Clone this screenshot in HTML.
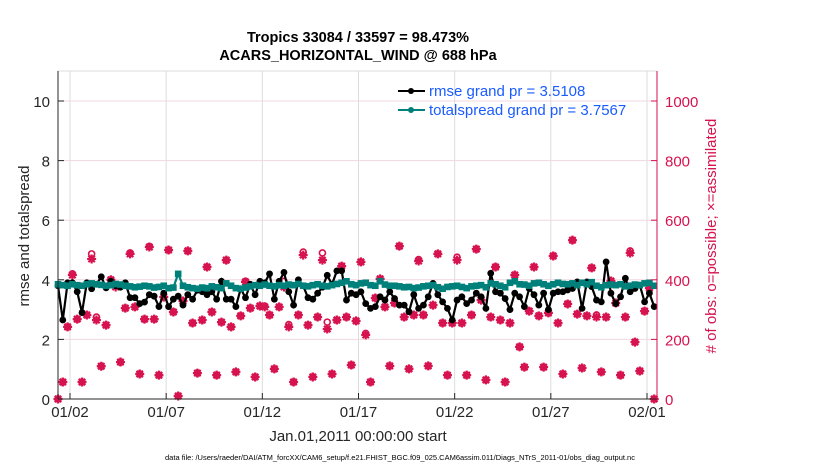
<!DOCTYPE html>
<html><head><meta charset="utf-8"><style>
body{margin:0;background:#fff;width:830px;height:470px;overflow:hidden;font-family:"Liberation Sans",Arial,sans-serif}
svg text{font-family:"Liberation Sans",Arial,sans-serif}
</style></head><body>
<svg id="c" width="830" height="470" xmlns="http://www.w3.org/2000/svg">
<text x="358" y="42" font-size="14.5" font-weight="bold" text-anchor="middle">Tropics 33084 / 33597 = 98.473%</text>
<text x="358" y="60" font-size="14.5" font-weight="bold" text-anchor="middle">ACARS_HORIZONTAL_WIND @ 688 hPa</text>
<text transform="translate(29,236) rotate(-90)" font-size="15" text-anchor="middle" fill="#262626">rmse and totalspread</text>
<text transform="translate(716,236) rotate(-90)" font-size="15" text-anchor="middle" fill="#d6124f"># of obs: o=possible; ×=assimilated</text>
<text x="358" y="441" font-size="15" text-anchor="middle" fill="#262626">Jan.01,2011 00:00:00 start</text>
<text x="400" y="460" font-size="7.5" text-anchor="middle" fill="#000">data file: /Users/raeder/DAI/ATM_forcXX/CAM6_setup/f.e21.FHIST_BGC.f09_025.CAM6assim.011/Diags_NTrS_2011-01/obs_diag_output.nc</text>
<g id="grid"></g><g id="obs"></g><g id="ser"></g><g id="axes"></g>
<g>
<line x1="398" y1="91" x2="425" y2="91" stroke="#000" stroke-width="2"/><circle cx="411" cy="91" r="3" fill="#000"/>
<text x="429" y="96" font-size="15" fill="#1a5cff">rmse grand pr = 3.5108</text>
<line x1="398" y1="110" x2="425" y2="110" stroke="#00807a" stroke-width="2"/><circle cx="411" cy="110" r="3" fill="#00807a"/>
<text x="429" y="115" font-size="15" fill="#1a5cff">totalspread grand pr = 3.7567</text>
</g>
</svg>
<script>
const obsAssim=[0,57,242,416,268,57,282,470,265,110,248,400,376,124,305,487,309,84,268,510,268,80,342,500,292,10,329,497,255,87,265,443,292,80,258,466,242,91,279,393,305,74,312,309,282,101,309,376,242,57,282,483,248,74,275,466,235,84,265,446,275,114,262,460,215,57,339,403,309,111,322,513,275,101,282,463,282,111,315,487,255,80,255,466,255,80,282,503,332,64,275,443,265,57,255,416,175,107,295,443,279,107,289,480,255,84,319,533,285,104,279,440,275,91,275,396,322,80,275,490,191,94,295,372,0];
const obsPoss=[0,57,242,420,268,57,282,487,275,110,248,400,380,124,305,490,309,84,268,512,268,80,342,500,292,10,329,497,255,87,265,443,292,80,258,466,242,91,279,395,305,74,312,312,282,101,309,395,250,57,282,493,248,74,275,490,258,84,265,446,275,114,262,460,220,57,339,403,309,111,322,513,275,101,282,468,282,111,315,487,255,80,255,476,255,80,282,503,332,64,275,443,265,57,255,416,175,107,295,443,279,107,289,480,255,84,319,533,285,104,279,440,282,91,275,396,322,80,275,497,191,94,295,372,0];
const rmse=[3.8,2.65,3.9,3.9,3.6,2.9,3.9,3.7,3.85,4.1,3.73,3.95,3.8,3.75,3.9,3.4,3.4,3.2,3.25,3.5,3.45,3.1,3.55,3.1,3.35,3.45,3.15,3.5,3.35,3.65,3.6,3.5,3.6,3.35,3.95,3.35,3.35,3.1,3.7,3.4,3.85,3.5,3.95,3.9,4.2,3.35,3.95,4.25,3.6,3.15,4.0,3.8,3.4,3.35,3.55,3.75,4.15,3.85,4.3,4.3,3.32,3.55,3.5,3.6,3.2,3.04,3.1,3.43,3.32,3.6,3.37,3.15,3.15,2.93,3.5,3.04,3.15,3.43,3.88,3.5,3.26,3.04,2.65,3.32,3.43,3.2,3.32,3.55,3.43,3.04,4.22,3.6,3.55,3.37,3.0,3.55,3.43,3.1,3.71,3.5,3.15,3.55,3.0,3.55,3.6,3.6,3.66,3.71,3.93,3.04,3.93,3.77,3.32,3.26,4.6,3.55,3.2,3.43,4.05,3.6,3.71,3.82,3.26,3.55,3.1];
const spread=[3.85,3.82,3.8,3.85,3.82,3.8,3.85,3.88,3.85,3.83,3.8,3.82,3.86,3.84,3.8,3.78,3.75,3.77,3.8,3.78,3.74,3.76,3.8,3.72,3.74,4.2,3.8,3.75,3.72,3.7,3.74,3.72,3.78,3.75,3.72,3.88,3.8,3.72,3.7,3.74,3.78,3.82,3.8,3.84,3.8,3.78,3.82,3.8,3.84,3.82,3.86,3.8,3.78,3.82,3.85,3.8,3.78,3.82,3.86,3.9,3.95,3.85,3.82,3.88,3.9,3.82,3.8,3.95,3.84,3.8,3.8,3.78,3.75,3.76,3.72,3.74,3.78,3.8,3.82,3.75,3.7,3.76,3.78,3.8,3.76,3.72,3.78,3.8,3.82,3.75,3.88,3.85,3.8,3.75,3.9,3.95,3.85,3.84,3.8,3.88,3.9,3.85,3.8,3.85,3.9,3.86,3.85,3.88,3.82,3.9,3.85,3.92,3.8,3.75,3.82,3.84,3.82,3.85,3.78,3.8,3.84,3.82,3.88,3.9,3.8];
const xTickDays=[1,6,11,16,21,26,31];
const xTickLabels=['01/02','01/07','01/12','01/17','01/22','01/27','02/01'];
const yLeftTicks=[0,2,4,6,8,10];
const yRightTicks=[0,200,400,600,800,1000];
const t0=0.375, dt=0.25;
const X=d=>70+(d-1)*19.233;
const YL=v=>399-v*29.8;
const YR=v=>399-v*0.298;
const NS='http://www.w3.org/2000/svg';
function mk(tag,at,parent){const e=document.createElementNS(NS,tag);for(const k in at)e.setAttribute(k,at[k]);parent.appendChild(e);return e;}
const grid=document.getElementById('grid'),axes=document.getElementById('axes'),obsG=document.getElementById('obs'),ser=document.getElementById('ser');
const L=58,R=657,T=71,B=399;
xTickDays.forEach((d,i)=>{
 const g=mk('line',{x1:X(d),x2:X(d),y1:T,y2:B,stroke:'#dcdcdc','stroke-width':1},grid);
 
 
 const tk=mk('line',{x1:X(d),x2:X(d),y1:B,y2:B-6,stroke:'#262626'},axes);
 
 
 const t=mk('text',{x:X(d),y:417,'font-size':15,'text-anchor':'middle',fill:'#262626'},axes);t.textContent=xTickLabels[i];
 
 
});
yLeftTicks.forEach(v=>{
 const g=mk('line',{x1:L,x2:R,y1:YL(v),y2:YL(v),stroke:'#f0d8e0','stroke-width':1},grid);
 
 
 const tk=mk('line',{x1:L,x2:L+6,y1:YL(v),y2:YL(v),stroke:'#262626'},axes);
 
 
 const t=mk('text',{x:L-8,y:YL(v)+6,'font-size':15,'text-anchor':'end',fill:'#262626'},axes);t.textContent=v;
 
 
});
yRightTicks.forEach(v=>{
 const tk=mk('line',{x1:R-6,x2:R,y1:YR(v),y2:YR(v),stroke:'#d6124f'},axes);
 
 
 const t=mk('text',{x:R+8,y:YR(v)+6,'font-size':15,fill:'#d6124f'},axes);t.textContent=v;
 
 
});
const tl=mk('line',{x1:L,x2:R,y1:T,y2:T,stroke:'#dcdcdc'},grid);


const la=mk('line',{x1:L,x2:L,y1:T,y2:B,stroke:'#262626'},axes);


const ba=mk('line',{x1:L,x2:R,y1:B,y2:B,stroke:'#262626'},axes);


const ra=mk('line',{x1:R,x2:R,y1:T,y2:B,stroke:'#d6124f'},axes);


// obs markers
obsPoss.forEach((v,i)=>{
 const c=mk('circle',{cx:X(t0+i*dt),cy:YR(v),r:3,fill:'none',stroke:'#d6124f','stroke-width':1.6},obsG);
 
 
});
obsAssim.forEach((v,i)=>{
 const x=X(t0+i*dt),y=YR(v);
 const p=mk('path',{d:`M${x-4.5},${y}H${x+4.5}M${x},${y-4.5}V${y+4.5}M${x-3.2},${y-3.2}L${x+3.2},${y+3.2}M${x-3.2},${y+3.2}L${x+3.2},${y-3.2}`,stroke:'#d6124f','stroke-width':2.2},obsG);
 
 
});
function series(arr,color,name,sq){
 const pts=arr.map((v,i)=>X(t0+i*dt).toFixed(1)+','+YL(v).toFixed(1)).join(' ');
 const pl=mk('polyline',{points:pts,fill:'none',stroke:color,'stroke-width':2.2},ser);
 
 
 arr.forEach((v,i)=>{
  const m=sq?mk('rect',{x:X(t0+i*dt)-3.3,y:YL(v)-3.3,width:6.6,height:6.6,fill:color},ser):mk('circle',{cx:X(t0+i*dt),cy:YL(v),r:3.4,fill:color},ser);
  
  
 });
}
series(rmse,'#000','rmse',false);
series(spread,'#00807a','totalspread',true);
</script>
</body></html>
